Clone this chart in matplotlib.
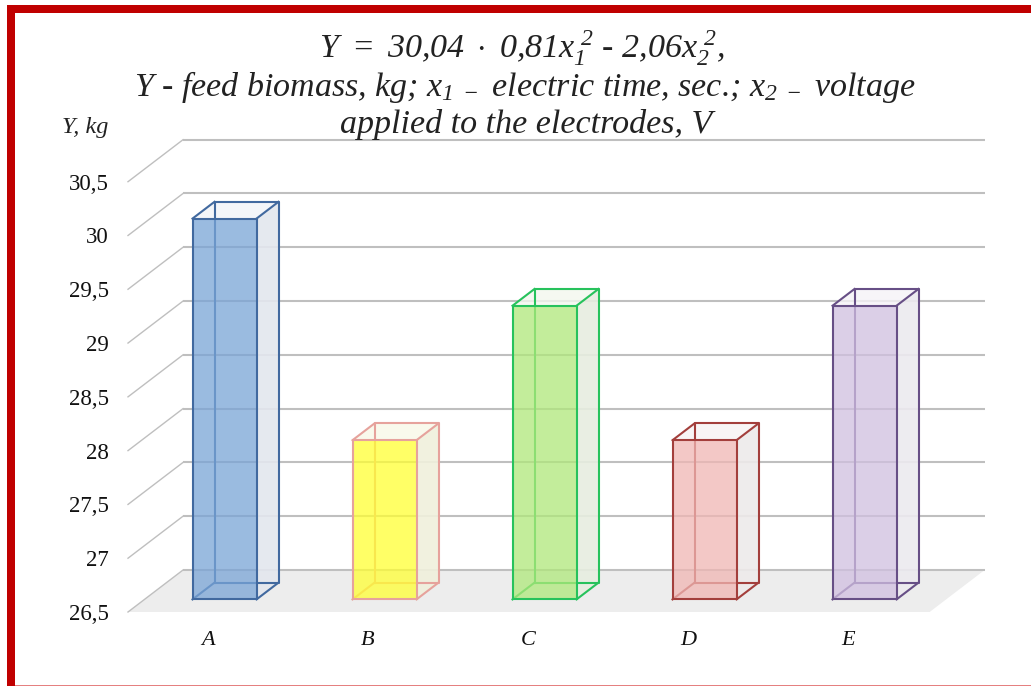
import matplotlib.pyplot as plt
from matplotlib.patches import Rectangle, Polygon

plt.rcParams['font.family'] = ['Liberation Serif', 'DejaVu Serif']
plt.rcParams['mathtext.fontset'] = 'custom'
plt.rcParams['mathtext.rm'] = 'Liberation Serif:italic'
plt.rcParams['mathtext.it'] = 'Liberation Serif:italic'

# Datos
categories = ['A', 'B', 'C', 'D', 'E']
values = [30.04, 27.98, 29.23, 27.98, 29.23]
y_ticks = [26.5, 27, 27.5, 28, 28.5, 29, 29.5, 30, 30.5]
y_tick_labels = ['26,5', '27', '27,5', '28', '28,5', '29', '29,5', '30', '30,5']
face_colors = ['#79A4D6', '#FFFF33', '#AFE87A', '#F0B6B3', '#D0BFE0']
side_colors = ['#E3E7EE', '#F0F0DC', '#E7EDE0', '#EDEAEA', '#ECEAEF']
top_colors = ['#F0F3F8', '#F8F8E8', '#F3F7EE', '#F7F3F3', '#F5F3F7']
edge_colors = ['#41699F', '#E6A29C', '#27C25C', '#A33F3C', '#674F86']

W, H = 1031, 686
fig = plt.figure(figsize=(W / 100, H / 100), dpi=100, facecolor='white')
ax = fig.add_axes([128 / W, (H - 612) / H, 857 / W, 430.3 / H])
ax.set_xlim(-0.5, 4.856)
ax.set_ylim(26.5, 30.5)
ax.patch.set_visible(False)
for s in ax.spines.values():
    s.set_visible(False)

# Profundidad del efecto 3D, en unidades de datos
dx = 55 / 160
dy = 42 / 107.6
grid = '#BFBFBF'
x0, x1 = -0.5, 4.51

# Suelo
ax.add_patch(Polygon([(x0, 26.5), (x0 + dx, 26.5 + dy), (x1 + dx, 26.5 + dy), (x1, 26.5)],
                     closed=True, fc='#EDEDED', ec='none', clip_on=False, zorder=1))

# Rejilla
for t in y_ticks:
    ax.plot([x0 + dx, x1 + dx], [t + dy, t + dy], color=grid, lw=1.5, clip_on=False, zorder=2,
            solid_capstyle='butt')
    ax.plot([x0, x0 + dx], [t, t + dy], color=grid, lw=1.0, clip_on=False, zorder=2)

# Barras
w = 0.4
d0, d1 = 0.3, 0.7
base = y_ticks[0]
for i, v in enumerate(values):
    xf0 = i - w / 2 + d0 * dx
    xf1 = xf0 + w
    xb0 = i - w / 2 + d1 * dx
    xb1 = xb0 + w
    yf0, yf1 = base + d0 * dy, v + d0 * dy
    yb0, yb1 = base + d1 * dy, v + d1 * dy
    ec = edge_colors[i]
    # cara lateral y superior
    ax.add_patch(Polygon([(xf1, yf0), (xb1, yb0), (xb1, yb1), (xf1, yf1)], closed=True,
                         fc=side_colors[i], ec='none', alpha=0.9, zorder=3, clip_on=False))
    ax.add_patch(Polygon([(xf0, yf1), (xb0, yb1), (xb1, yb1), (xf1, yf1)], closed=True,
                         fc=top_colors[i], ec='none', alpha=0.8, zorder=3, clip_on=False))
    # aristas traseras
    ax.plot([xb0, xb0, xb1, xb1, xb0], [yb0, yb1, yb1, yb0, yb0], color=ec, lw=1.5, zorder=4,
            clip_on=False)
    ax.plot([xf0, xb0], [yf0, yb0], color=ec, lw=1.5, zorder=4, clip_on=False)
    ax.plot([xf1, xb1], [yf0, yb0], color=ec, lw=1.5, zorder=4, clip_on=False)
    ax.plot([xf0, xb0], [yf1, yb1], color=ec, lw=1.5, zorder=4, clip_on=False)
    ax.plot([xf1, xb1], [yf1, yb1], color=ec, lw=1.5, zorder=4, clip_on=False)
    # cara frontal
    ax.bar(xf0 + w / 2, v - base, width=w, bottom=yf0, color=face_colors[i], alpha=0.75,
           zorder=5, clip_on=False)
    ax.bar(xf0 + w / 2, v - base, width=w, bottom=yf0, facecolor='none', edgecolor=ec,
           linewidth=1.5, zorder=6, clip_on=False)

# Ejes
ax.set_xticks(range(len(categories)))
ax.set_xticklabels(categories, fontstyle='italic', fontsize=16, color='#111111')
ax.tick_params(axis='x', length=0, pad=14)
ax.set_yticks(y_ticks)
ax.set_yticklabels(y_tick_labels, fontsize=16.5, color='#111111')
ax.tick_params(axis='y', length=0, pad=14)

# Títulos
fig.text(85 / W, 1 - 128 / H, 'Y, kg', style='italic', fontsize=17.5, color='#222222',
         ha='center', va='center')
title_lines = [
    (522, 58, r'$Y\ =\ 30{,}04\ \cdot\ 0{,}81x_{1}^{\ 2}$ - $2{,}06x_{2}^{\ 2},$'),
    (525, 96, r'Y - feed biomass, kg; $x_{1\ -}$ electric time, sec.; $x_{2\ -}$ voltage'),
    (526, 133, 'applied to the electrodes, V'),
]
for x, y, line in title_lines:
    fig.text(x / W, 1 - y / H, line, style='italic', fontsize=24.5, color='#222222',
             ha='center', va='baseline')

# Marco rojo
fig.add_artist(Rectangle((7 / W, 0), 8 / W, 1 - 5 / H, transform=fig.transFigure, fc='#C00000', ec='none'))
fig.add_artist(Rectangle((7 / W, 1 - 13 / H), 1 - 7 / W, 8 / H, transform=fig.transFigure, fc='#C00000', ec='none'))
fig.add_artist(Rectangle((15 / W, 0), 1 - 15 / W, 1.5 / H, transform=fig.transFigure, fc='#E58080', ec='none'))

fig.savefig('out.png', dpi=100)
